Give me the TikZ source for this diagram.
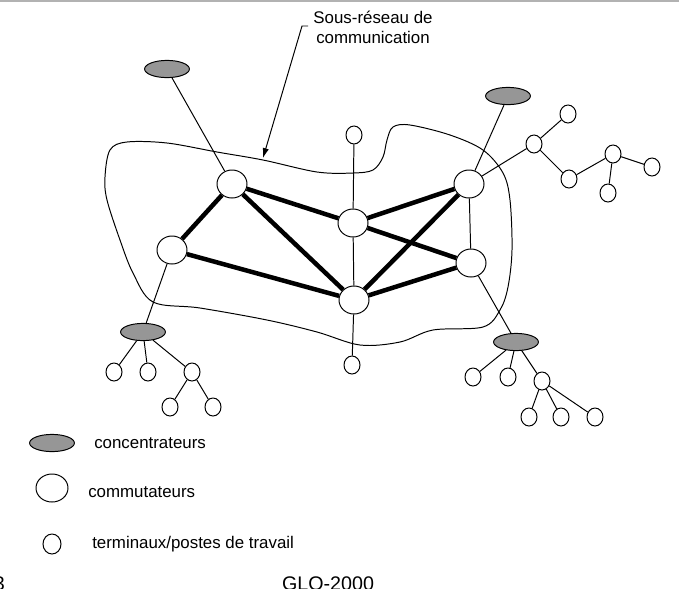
\documentclass[tikz,border=0pt]{standalone}
\usepackage{fontspec}
\setmainfont{Liberation Sans}
\usetikzlibrary{shapes.geometric,arrows.meta}
\definecolor{concgray}{RGB}{150,150,150}

\begin{document}
\begin{tikzpicture}[x=0.025cm,y=-0.025cm,
    com/.style={draw,ellipse,minimum width=0.75cm,minimum height=0.7cm,inner sep=0pt,fill=white,line width=0.7pt},
    term/.style={draw,ellipse,minimum width=0.4cm,minimum height=0.45cm,inner sep=0pt,fill=white,line width=0.7pt},
    conc/.style={draw,ellipse,minimum width=1.12cm,minimum height=0.43cm,inner sep=0pt,fill=concgray,line width=0.7pt},
    trunk/.style={line width=3.2pt},
    link/.style={line width=0.7pt},
    legend/.style={anchor=west,inner sep=0pt,font=\fontsize{12}{14}\selectfont}]
    \useasboundingbox (0,0) rectangle (679,588);
    \draw[gray!60,line width=1.2pt] (0,0.8) -- (679,0.8);

    % sous-reseau (contour)
    \draw[link] plot[smooth cycle,tension=0.55] coordinates {(153,302) (200,308) (267,320) (317,332) (360,345) (400,342) (433,330) (483,327) (500,310) (508,287) (512,250) (510,200) (503,173) (483,150) (450,135) (410,125) (393,127) (387,140) (383,157) (373,170) (353,173) (317,172) (263,160) (217,152) (167,143) (127,142) (110,150) (105,177) (107,200) (120,240) (133,273)};

    % titre et fleche
    \node[align=center,inner sep=0pt,font=\fontsize{12}{14.2}\selectfont] (titre) at (373,27) {Sous-réseau de\\communication};
    \coordinate (tick) at (308,26);
    \coordinate (bord) at (263,158);
    \draw[link,-{Latex[length=7pt,width=4.5pt]}] (tick) -- (302,26) -- (bord);

    % commutateurs
    \node[com] (comA) at (232,184) {};
    \node[com] (comB) at (172,250) {};
    \node[com] (comC) at (353,223) {};
    \node[com] (comD) at (354,300) {};
    \node[com] (comE) at (469,184) {};
    \node[com] (comF) at (471,263) {};

    % concentrateurs
    \node[conc] (concTL) at (167,69) {};
    \node[conc] (concTR) at (508,96) {};
    \node[conc] (concBL) at (143,332) {};
    \node[conc] (concBR) at (516,342) {};

    % terminaux
    \node[term] (tHaut) at (354,135) {};
    \node[term] (tBas) at (352,365) {};
    \node[term] (tR1) at (534,144) {};
    \node[term] (tR2) at (568,114) {};
    \node[term] (tR3) at (569,179) {};
    \node[term] (tR4) at (613,154) {};
    \node[term] (tR5) at (652,167) {};
    \node[term] (tR6) at (608,193) {};
    \node[term] (tL1) at (114,372) {};
    \node[term] (tL2) at (148,372) {};
    \node[term] (tL3) at (192,372) {};
    \node[term] (tL4) at (170,407) {};
    \node[term] (tL5) at (213,407) {};
    \node[term] (tB1) at (473,377) {};
    \node[term] (tB2) at (508,377) {};
    \node[term] (tB3) at (542,381) {};
    \node[term] (tB4) at (529,417) {};
    \node[term] (tB5) at (561,417) {};
    \node[term] (tB6) at (595,417) {};

    % liaisons entre commutateurs
    \draw[trunk] (comA) -- (comC);
    \draw[trunk] (comA) -- (comB);
    \draw[trunk] (comA) -- (comD);
    \draw[trunk] (comB) -- (comD);
    \draw[trunk] (comC) -- (comE);
    \draw[trunk] (comC) -- (comF);
    \draw[trunk] (comD) -- (comE);
    \draw[trunk] (comD) -- (comF);

    % autres liaisons
    \draw[link] (comA) -- (concTL);
    \draw[link] (comE) -- (concTR);
    \draw[link] (comB) -- (concBL);
    \draw[link] (comF) -- (concBR);
    \draw[link] (tHaut) -- (comC);
    \draw[link] (comC) -- (comD);
    \draw[link] (comD) -- (tBas);
    \draw[link] (comE) -- (comF);
    \draw[link] (comE) -- (tR1);
    \draw[link] (tR1) -- (tR2);
    \draw[link] (tR1) -- (tR3);
    \draw[link] (tR3) -- (tR4);
    \draw[link] (tR4) -- (tR5);
    \draw[link] (tR4) -- (tR6);
    \draw[link] (concBL) -- (tL1);
    \draw[link] (concBL) -- (tL2);
    \draw[link] (concBL) -- (tL3);
    \draw[link] (tL3) -- (tL4);
    \draw[link] (tL3) -- (tL5);
    \draw[link] (concBR) -- (tB1);
    \draw[link] (concBR) -- (tB2);
    \draw[link] (concBR) -- (tB3);
    \draw[link] (tB3) -- (tB4);
    \draw[link] (tB3) -- (tB5);
    \draw[link] (tB3) -- (tB6);

    % legende
    \node[conc] (legConc) at (52,443) {};
    \node[legend] (txtConc) at (94,443) {concentrateurs};
    \node[com,minimum width=0.8cm] (legCom) at (52,488) {};
    \node[legend] (txtCom) at (88,492) {commutateurs};
    \node[term,minimum width=0.45cm,minimum height=0.5cm] (legTerm) at (52,544) {};
    \node[legend] (txtTerm) at (92,544) {terminaux/postes de travail};

    % pied de page (coupe par le bord comme dans l'original)
    \node[anchor=base east,inner sep=0pt,font=\fontsize{14}{16}\selectfont] (page) at (5,590) {3};
    \node[anchor=base,inner sep=0pt,font=\fontsize{14}{16}\selectfont] (cours) at (328,590) {GLO-2000};
\end{tikzpicture}
\end{document}
